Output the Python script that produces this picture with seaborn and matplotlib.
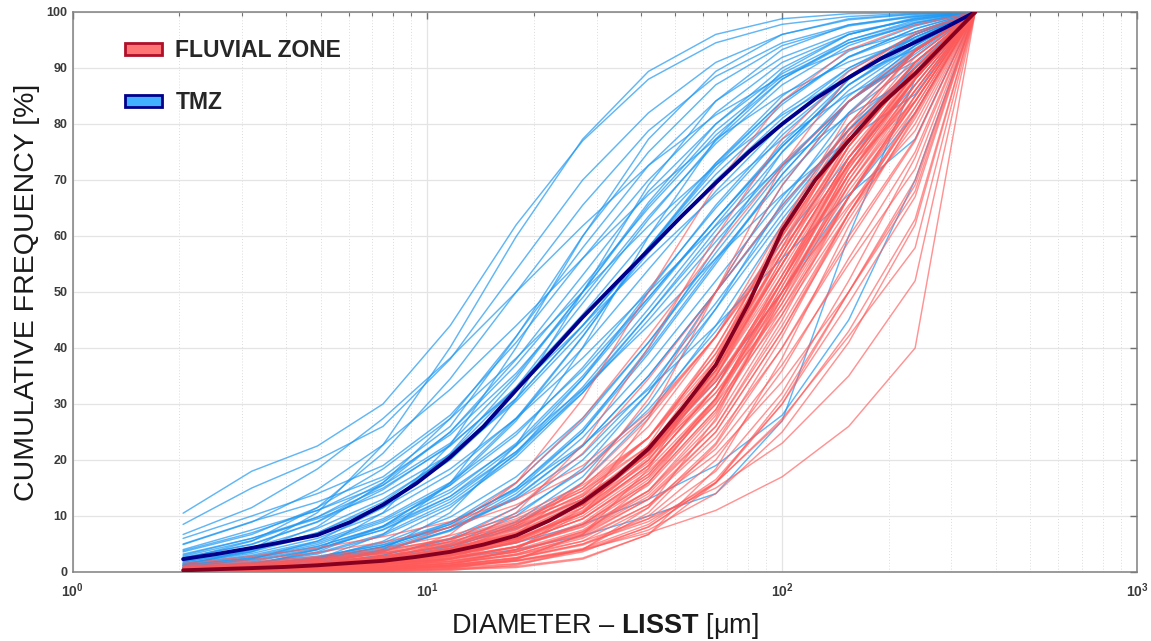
import numpy as np
import pandas as pd
import matplotlib
matplotlib.use("Agg")
import matplotlib.pyplot as plt
import seaborn as sns
from matplotlib.patches import Patch
from matplotlib.ticker import FixedLocator, NullLocator, LogLocator

# LISST size classes used for the individual curves (µm)
diameters = [2.05, 3.2, 4.9, 7.5, 11.6, 17.8, 27.4, 42, 65, 100, 154, 237, 350]
# finer classes used for the two mean curves (µm)
mean_diameters = [2.05, 2.54, 3.2, 3.95, 4.9, 6.06, 7.5, 9.3, 11.6, 14.4, 17.8, 22.1,
                  27.4, 33.9, 42, 52, 65, 80.5, 100, 124, 154, 190, 237, 288, 350]

# TMZ cumulative curves (%)
tmz_curves = {
    "B01": [10.5, 18, 22.5, 30, 44, 62, 77, 88, 94.5, 97.8, 99.2, 99.8, 100],
    "B02": [8.5, 15, 20, 26, 38, 54, 70, 82, 91, 96, 98.6, 99.6, 100],
    "B03": [5, 9, 12.5, 17, 26, 42, 60, 75, 87, 94, 97.5, 99.2, 100],
    "B04": [4, 7.5, 11, 15.5, 23, 35, 50, 66, 80, 90, 96, 99, 100],
    "B05": [1.4, 3.6, 8.1, 15.9, 27.4, 42.1, 57.9, 72.6, 84.1, 91.9, 96.4, 98.6, 100],
    "B06": [6.7, 11.5, 18.4, 27.4, 38.2, 50, 61.8, 72.6, 81.6, 88.5, 93.3, 96.4, 100],
    "B07": [0.8, 2.3, 5.5, 11.5, 21.2, 34.5, 50, 65.5, 78.8, 88.5, 94.5, 97.7, 100],
    "B08": [3.6, 6.7, 11.5, 18.4, 27.4, 38.2, 50, 61.8, 72.6, 81.6, 88.5, 93.3, 100],
    "B09": [0.5, 1.4, 3.6, 8.1, 15.9, 27.4, 42.1, 57.9, 72.6, 84.1, 91.9, 96.4, 100],
    "B10": [0.1, 0.3, 1.2, 4.0, 10.6, 22.7, 40.1, 59.9, 77.3, 89.4, 96.0, 98.8, 100],
    "B11": [0.3, 0.8, 2.3, 5.5, 11.5, 21.2, 34.5, 50, 65.5, 78.8, 88.5, 94.5, 100],
    "B12": [1.8, 3.6, 6.7, 11.5, 18.4, 27.4, 38.2, 50, 61.8, 72.6, 81.6, 88.5, 100],
    "B13": [4.9, 8.9, 14.7, 22.7, 32.6, 44.0, 56.0, 67.4, 77.3, 85.3, 91.1, 95.1, 100],
    "B14": [1.2, 4.0, 10.6, 22.7, 40.1, 59.9, 77.3, 89.4, 96.0, 98.8, 99.7, 99.9, 100],
    "B15": [0.6, 1.3, 2.5, 4.5, 8.5, 15, 25, 39, 55, 71, 84, 93, 100],
    "B16": [1.2, 2.6, 4.9, 8.9, 14.7, 22.7, 32.6, 44.0, 56.0, 67.4, 77.3, 85.3, 100],
    "B17": [0.3, 0.6, 1.1, 2.2, 4.5, 9, 17, 30, 47, 66, 82, 93, 100],
    "B18": [0.8, 1.6, 2.8, 4.8, 8, 13, 21, 33, 48, 64, 79, 90, 100],
    "B19": [0.4, 0.8, 1.5, 2.7, 4.6, 7.8, 13, 21.5, 34, 50, 67, 82, 100],
    "B20": [0.3, 0.6, 1.1, 1.9, 3.2, 5.2, 8.5, 13, 19, 28, 45, 70, 100],
    "B21": [0.2, 0.4, 0.8, 1.4, 2.4, 4, 6.5, 10, 14, 27, 60, 88, 100],
    "B22": [0.5, 1.2, 2.6, 4.9, 8.9, 14.7, 22.7, 32.6, 44.0, 56.0, 67.4, 77.3, 100],
    "B23": [0.1, 0.6, 2.3, 6.7, 15.9, 30.9, 50, 69.1, 84.1, 93.3, 97.7, 99.4, 100],
    "B24": [2.3, 5.5, 11.5, 21.2, 34.5, 50, 65.5, 78.8, 88.5, 94.5, 97.7, 99.2, 100],
    "B25": [0.5, 1.1, 2.2, 4.2, 8, 14.5, 25, 40, 58, 75, 88, 96, 100],
    "B26": [2.6, 4.9, 8.9, 14.7, 22.7, 32.6, 44.0, 56.0, 67.4, 77.3, 85.3, 91.1, 100],
    "B27": [0.3, 1.2, 4.0, 10.6, 22.7, 40.1, 59.9, 77.3, 89.4, 96.0, 98.8, 99.7, 100],
    "B28": [0.2, 0.5, 1.1, 2.4, 5, 10, 18.5, 32, 50, 69, 84, 94, 100],
    "B29": [6, 10, 14, 19, 28, 41, 56, 70, 82, 91, 96, 98.8, 100],
    "B30": [3, 6, 9.5, 14, 21, 31, 44, 58, 72, 83.5, 92, 97, 100],
    "B31": [1.5, 3, 5.5, 9.5, 16, 25, 36, 49, 63, 76, 87, 95, 100],
    "B32": [2, 4, 7, 12, 20, 31, 44, 58, 71, 82, 90, 95.5, 100],
    "B33": [0.6, 1.5, 3.2, 6.5, 12, 20.5, 32, 46, 61, 75, 86, 94, 100],
    "B34": [0.2, 0.6, 1.6, 3.6, 7.5, 14, 24, 37, 52, 67, 80, 90, 100],
    "B35": [1, 2.2, 4.2, 7.5, 13, 21.5, 33, 47, 62, 76, 87, 94.5, 100],
    "B36": [3.2, 6, 9.8, 15, 22.5, 33, 46, 60, 73, 84, 92, 97, 100],
    "B37": [0.4, 1, 2.2, 4.5, 8.8, 16, 27, 41, 57, 72, 85, 93.5, 100],
    "B38": [1.8, 3.8, 7, 12.5, 21, 33, 48, 63, 77, 88, 95, 98.5, 100],
    "B39": [0.7, 1.6, 3.4, 6.8, 12.5, 21, 32.5, 46, 60, 73, 84, 92, 100],
    "B40": [2.5, 5, 9, 15.5, 25, 38, 53, 68, 80, 89, 95, 98.2, 100],
    "B41": [0.3, 0.8, 1.8, 3.8, 7.3, 13.3, 22.5, 35, 50, 65.5, 79, 90, 100],
    "B42": [1.3, 2.8, 5.2, 9.2, 15.5, 24.5, 36.5, 50.5, 65, 78, 88.5, 95.5, 100],
    "B43": [1.1, 2.4, 4.5, 8.2, 14.2, 23, 35, 49, 63, 76, 87, 94, 100],
    "B44": [0.5, 1.2, 2.6, 5.2, 9.8, 17, 27.5, 41, 56, 70, 82, 91, 100],
    "B45": [2.2, 4.4, 7.8, 13, 20.5, 30.5, 43, 57, 70, 81, 90, 96, 100],
    "B46": [0.9, 2, 4, 7.6, 13.5, 22.5, 34.5, 48.5, 63, 76.5, 88, 95.5, 100],
    "B47": [0.2, 0.6, 1.4, 3, 6, 11.5, 20, 32, 47, 63, 78, 90, 100],
    "B48": [3.8, 7, 11, 16.5, 24.5, 35.5, 49, 63.5, 76.5, 87, 94, 98, 100],
    "B49": [1.6, 3.3, 6, 10.5, 17.5, 27.5, 40, 54, 68, 80, 89.5, 96, 100],
    "B50": [0.4, 1, 2, 4, 7.5, 13.5, 22.5, 35, 50, 65, 79, 90.5, 100],
    "B51": [0.7, 1.8, 4, 8.2, 15.5, 27, 42, 58, 73, 85, 93, 97.5, 100],
    "B52": [1.2, 2.5, 4.6, 8, 13.5, 21.5, 32, 45, 59, 72.5, 84, 92.5, 100],
    "B53": [0.3, 0.7, 1.5, 3, 5.8, 10.5, 18, 29, 43, 59, 74, 87, 100],
    "B54": [2.8, 5.6, 9.8, 16, 25, 37, 51, 65, 78, 88, 94.5, 98, 100],
    "B55": [0.5, 1.1, 2.3, 4.5, 8.5, 15, 25.5, 39.5, 55.5, 71, 84, 93, 100],
    "B56": [0.1, 0.3, 0.8, 1.9, 4.2, 8.5, 16, 28, 44, 62, 78, 90, 100],
}

# Fluvial zone cumulative curves (%)
fluvial_curves = {
    "R01": [0, 0.1, 0.3, 1.2, 4.0, 10.6, 22.7, 40.1, 59.9, 77.3, 89.4, 96.0, 100],
    "R02": [0.1, 0.5, 1.4, 3.6, 8.1, 15.9, 27.4, 42.1, 57.9, 72.6, 84.1, 91.9, 100],
    "R03": [0, 0, 0.1, 0.6, 2.3, 6.7, 15.9, 30.9, 50, 69.1, 84.1, 93.3, 100],
    "R04": [0.1, 0.3, 0.8, 2.3, 5.5, 11.5, 21.2, 34.5, 50, 65.5, 78.8, 88.5, 100],
    "R05": [0.2, 0.3, 0.5, 0.8, 1.5, 4, 11.5, 27.4, 50, 72.6, 88.5, 96.4, 100],
    "R06": [0, 0.1, 0.2, 0.3, 1.2, 4.0, 10.6, 22.7, 40.1, 59.9, 77.3, 89.4, 100],
    "R07": [0, 0.1, 0.5, 1.4, 3.6, 8.1, 15.9, 27.4, 42.1, 57.9, 72.6, 84.1, 100],
    "R08": [0.2, 0.3, 0.5, 0.7, 1, 2.2, 6.7, 18.4, 38.2, 61.8, 81.6, 93.3, 100],
    "R09": [0, 0, 0.1, 0.1, 0.6, 2.3, 6.7, 15.9, 30.9, 50, 69.1, 84.1, 100],
    "R10": [0.1, 0.2, 0.3, 0.5, 0.8, 1.5, 4, 11.5, 27.4, 50, 72.6, 88.5, 100],
    "R11": [0, 0.1, 0.3, 0.8, 2.3, 5.5, 11.5, 21.2, 34.5, 50, 65.5, 78.8, 100],
    "R12": [0, 0, 0.1, 0.1, 0.3, 1.2, 4.0, 10.6, 22.7, 40.1, 59.9, 77.3, 100],
    "R13": [0.1, 0.2, 0.3, 0.4, 0.6, 1, 2.5, 6.7, 18.4, 38.2, 61.8, 81.6, 100],
    "R14": [0, 0, 0.1, 0.2, 0.4, 0.8, 2.3, 6.7, 15.9, 30.9, 50, 69.1, 100],
    "R15": [0, 0.1, 0.2, 0.3, 0.5, 1.4, 3.6, 8.1, 15.9, 27.4, 42.1, 57.9, 100],
    "R16": [0, 0, 0.1, 0.3, 0.8, 2, 4, 7, 11, 17, 26, 40, 100],
    "R17": [0, 0.1, 0.3, 0.7, 1.5, 3, 5.5, 9.5, 15, 23, 35, 52, 100],
    "R18": [0, 0.1, 0.2, 0.5, 1.2, 2.5, 5, 9, 16, 27, 43, 63, 100],
    "R19": [0, 0.1, 0.6, 2.3, 6.7, 15.9, 30.9, 50, 69.1, 84.1, 93.3, 97.7, 100],
    "R20": [0.5, 1.0, 1.6, 2.6, 4.3, 7, 12, 20, 33, 52, 72, 88, 100],
    "R21": [0.3, 0.7, 1.2, 2.0, 3.4, 6, 10.5, 18.5, 31, 48, 67, 84, 100],
    "R22": [0.8, 1.5, 2.4, 3.8, 6, 9.5, 15, 24, 38, 57, 76, 90, 100],
    "R23": [0.2, 0.5, 1, 1.8, 3.2, 5.8, 10.5, 19, 33, 53, 73, 88, 100],
    "R24": [1.2, 2.2, 3.5, 5.3, 8, 12, 18, 28, 42, 60, 78, 91, 100],
    "R25": [0.4, 0.9, 1.6, 2.8, 4.8, 8.5, 15, 26, 42, 62, 80, 93, 100],
    "R26": [0.1, 0.3, 0.6, 1.2, 2.3, 4.5, 8.5, 16, 29, 48, 69, 86, 100],
    "R27": [0.6, 1.3, 2.2, 3.6, 5.8, 9.2, 14.5, 22.5, 34, 50, 68, 84, 100],
    "R28": [1.5, 2.8, 4.3, 6.3, 9, 13, 19, 28.5, 42, 59, 76, 90, 100],
    "R29": [0.2, 0.4, 0.8, 1.5, 2.8, 5.2, 9.5, 17.5, 31, 51, 71, 87, 100],
    "R30": [0.3, 0.6, 1.1, 2, 3.6, 6.5, 12, 21.5, 36, 56, 75, 89, 100],
    "R31": [0.1, 0.3, 0.7, 1.4, 2.8, 5.5, 10.5, 20, 35, 55, 74, 88, 100],
    "R32": [0.4, 0.8, 1.4, 2.4, 4.2, 7.5, 13.5, 24, 40, 60, 78, 91, 100],
    "R33": [0.2, 0.5, 0.9, 1.7, 3, 5.5, 10, 18, 30, 46, 64, 80, 100],
    "R34": [0.1, 0.2, 0.4, 0.8, 1.6, 3.2, 6.5, 13, 25, 43, 64, 82, 100],
    "R35": [0, 0.1, 0.2, 0.5, 1, 2, 4, 8, 16, 30, 50, 70, 100],
    "R36": [0.3, 0.6, 1, 1.7, 3, 5.3, 9.5, 17, 30, 50, 70, 86, 100],
    "R37": [0.2, 0.4, 0.8, 1.4, 2.5, 4.5, 8.5, 16, 29, 49, 70, 87, 100],
    "R38": [0.5, 0.9, 1.5, 2.5, 4.2, 7.2, 12.5, 21.5, 35, 54, 73, 88, 100],
    "R39": [0.1, 0.3, 0.6, 1.1, 2, 3.8, 7.2, 14, 26, 45, 67, 85, 100],
    "R40": [0.4, 0.8, 1.3, 2.2, 3.8, 6.7, 12, 21, 36, 57, 77, 91, 100],
    "R41": [0.7, 1.3, 2, 3.2, 5, 8, 13, 21, 33, 50, 69, 85, 100],
    "R42": [0.2, 0.5, 0.9, 1.6, 2.9, 5.2, 9.5, 17.5, 31, 52, 73, 89, 100],
    "R43": [0.3, 0.7, 1.2, 2.1, 3.7, 6.6, 12, 22, 38, 60, 80, 93, 100],
    "R44": [0.9, 1.6, 2.5, 3.9, 5.9, 8.9, 13.5, 21, 32, 47, 65, 82, 100],
    "R45": [0.1, 0.2, 0.5, 1, 1.9, 3.6, 7, 13.5, 25, 43, 63, 81, 100],
    "R46": [0.6, 1.1, 1.8, 2.9, 4.7, 7.8, 13, 22, 36, 55, 74, 89, 100],
    "R47": [0.2, 0.5, 1, 1.9, 3.5, 6.5, 12, 22, 37, 57, 76, 90, 100],
    "R48": [1, 1.8, 2.8, 4.3, 6.5, 10, 15.5, 24, 37, 55, 73, 88, 100],
    "R49": [0.1, 0.2, 0.4, 0.9, 1.8, 3.6, 7.2, 14.5, 28, 49, 71, 88, 100],
    "R50": [0.3, 0.6, 1.1, 1.9, 3.3, 5.9, 10.8, 20, 35, 56, 76, 91, 100],
    "R51": [0.2, 0.4, 0.7, 1.3, 2.4, 4.4, 8.2, 15.5, 28.5, 47, 67, 84, 100],
    "R52": [0.5, 1, 1.7, 2.8, 4.6, 7.6, 12.8, 21.5, 35, 53, 71, 86, 100],
    "R53": [0.1, 0.3, 0.6, 1.2, 2.3, 4.4, 8.5, 16.5, 30.5, 51, 72, 88, 100],
    "R54": [0.4, 0.8, 1.4, 2.3, 3.9, 6.8, 12, 21, 35.5, 55, 74, 89, 100],
    "R55": [0.3, 0.5, 0.9, 1.5, 2.6, 4.5, 8, 14.5, 26, 44, 64, 82, 100],
    "R56": [0.6, 1.2, 2, 3.3, 5.4, 8.8, 14.5, 24, 39, 58, 77, 91, 100],
    "R57": [0.1, 0.2, 0.4, 0.7, 1.3, 2.6, 5.5, 11.5, 23, 42, 64, 83, 100],
    "R58": [0.2, 0.5, 0.9, 1.7, 3.1, 5.7, 10.5, 19, 33, 52, 71, 86, 100],
    "R59": [0.8, 1.4, 2.2, 3.4, 5.2, 8.2, 13, 21, 34, 52, 71, 87, 100],
    "R60": [0.3, 0.6, 1.1, 1.9, 3.4, 6, 11, 20.5, 36, 58, 79, 93, 100],
    "R61": [0.2, 0.4, 0.8, 1.4, 2.5, 4.6, 8.8, 17, 31, 52, 74, 90, 100],
    "R62": [0.4, 0.9, 1.6, 2.8, 4.8, 8.2, 14, 24, 39, 59, 78, 92, 100],
    "R63": [0.1, 0.3, 0.5, 1, 1.9, 3.6, 6.8, 13, 24, 40, 59, 77, 100],
    "R64": [0.5, 0.9, 1.5, 2.5, 4.1, 6.8, 11.5, 19.5, 32, 49, 67, 83, 100],
    "R65": [0.2, 0.4, 0.7, 1.2, 2.2, 4, 7.5, 14.5, 27, 46, 67, 85, 100],
    "R66": [0.7, 1.3, 2.1, 3.4, 5.4, 8.6, 13.8, 22.5, 36, 55, 74, 89, 100],
    "R67": [0, 0.1, 0.3, 0.6, 1.2, 2.5, 5, 10, 20, 36, 56, 75, 100],
    "R68": [0.3, 0.7, 1.3, 2.3, 4, 7, 12.5, 22, 37, 57, 76, 90, 100],
    "R69": [0.1, 0.2, 0.4, 0.8, 1.5, 3, 6, 12, 22, 37, 55, 72, 100],
    "R70": [0.4, 0.7, 1.2, 2, 3.4, 5.9, 10.5, 19, 33, 53, 73, 88, 100],
    "R71": [0, 0.1, 0.2, 0.4, 0.9, 1.9, 3.8, 7.5, 14, 25, 41, 62, 100],
    "R72": [0.1, 0.2, 0.4, 0.8, 1.6, 3.2, 6.3, 12, 21, 34, 50, 68, 100],
    "R73": [0, 0.1, 0.3, 0.6, 1.2, 2.4, 4.8, 9.5, 18, 32, 52, 74, 100],
    "R74": [0.1, 0.2, 0.3, 0.6, 1.1, 2.1, 4.2, 8.5, 16.5, 30, 48, 67, 100],
}

# Mean curves (%)
tmz_mean = [2.3, 3.2, 4.3, 5.4, 6.6, 8.9, 12, 15.8, 20.5, 26, 32.5, 39, 45.5,
            51.5, 57.5, 63.5, 69.5, 75, 80, 84.5, 88.3, 91.7, 94.6, 97.2, 100]
fluvial_mean = [0.3, 0.5, 0.7, 0.9, 1.2, 1.6, 2.0, 2.7, 3.6, 4.9, 6.5, 9.2, 12.5,
                16.8, 22, 29, 37, 48, 61, 70, 77, 83.5, 89, 94.5, 100]

legend_labels = ["FLUVIAL ZONE", "TMZ"]
x_ticks = [1, 10, 100, 1000]
x_ticklabels = [r"$\mathbf{10^{0}}$", r"$\mathbf{10^{1}}$", r"$\mathbf{10^{2}}$", r"$\mathbf{10^{3}}$"]
y_ticks = [0, 10, 20, 30, 40, 50, 60, 70, 80, 90, 100]

# ---------------------------------------------------------------------------
sns.set_style("white")
plt.rcParams["font.family"] = ["Liberation Sans", "DejaVu Sans"]
plt.rcParams["mathtext.fontset"] = "custom"
plt.rcParams["mathtext.rm"] = "Liberation Sans"
plt.rcParams["mathtext.bf"] = "Liberation Sans:bold"
plt.rcParams["mathtext.it"] = "Liberation Sans:italic"


def to_long(curves, zone):
    rows = []
    for name, vals in curves.items():
        for d, v in zip(diameters, vals):
            rows.append({"d": d, "v": v, "curve": name, "zone": zone})
    return pd.DataFrame(rows)


df_tmz = to_long(tmz_curves, "TMZ")
df_fl = to_long(fluvial_curves, "FLUVIAL ZONE")
df_mean = pd.DataFrame({"d": mean_diameters * 2,
                        "v": tmz_mean + fluvial_mean,
                        "zone": ["TMZ"] * len(mean_diameters) + ["FLUVIAL ZONE"] * len(mean_diameters)})

fig = plt.figure(figsize=(11.51, 6.41), dpi=100)
ax = fig.add_axes([72.5 / 1151, 1 - 572 / 641, (1137 - 72.5) / 1151, (572 - 12) / 641])

sns.lineplot(data=df_tmz, x="d", y="v", units="curve", estimator=None,
             color="#1e98f2", alpha=0.7, lw=1.05, ax=ax, legend=False, zorder=2)
sns.lineplot(data=df_fl, x="d", y="v", units="curve", estimator=None,
             color="#ff5a5a", alpha=0.65, lw=1.05, ax=ax, legend=False, zorder=3)
sns.lineplot(data=df_mean, x="d", y="v", hue="zone", estimator=None,
             palette={"TMZ": "#00008b", "FLUVIAL ZONE": "#880020"},
             lw=2.8, ax=ax, legend=False, zorder=4)

ax.set_xscale("log")
ax.set_xlim(1, 1000)
ax.set_ylim(0, 100)

ax.xaxis.set_major_locator(FixedLocator(x_ticks))
ax.set_xticklabels(x_ticklabels)
ax.xaxis.set_minor_locator(LogLocator(base=10, subs=np.arange(2, 10)))
ax.set_yticks(y_ticks)
ax.set_yticklabels([str(t) for t in y_ticks], fontweight="bold")
ax.yaxis.set_minor_locator(NullLocator())

ax.tick_params(axis="both", which="major", direction="in", length=5, width=1,
               color="#707070", labelcolor="#3a3a3a", labelsize=9, top=True, right=True)
ax.tick_params(axis="x", which="minor", direction="in", length=3, width=0.8,
               color="#707070", top=True)
ax.tick_params(axis="x", which="major", pad=7, labelsize=10)

ax.set_axisbelow(True)
ax.grid(which="major", axis="y", color="#e4e4e4", lw=0.9, ls="-")
ax.grid(which="major", axis="x", color="#e4e4e4", lw=0.9, ls="-")
ax.grid(which="minor", axis="x", color="#dcdcdc", lw=0.7, ls=(0, (1, 2)))

for s in ax.spines.values():
    s.set_visible(True)
    s.set_color("#808080")
    s.set_linewidth(1.1)

ax.set_ylabel("CUMULATIVE FREQUENCY [%]", fontsize=20.5, color="#1a1a1a", labelpad=5)
ax.set_xlabel(r"DIAMETER – $\mathbf{LISST}$ [μm]", fontsize=19.5, color="#1a1a1a")
ax.xaxis.set_label_coords(0.5, -0.07)

handles = [Patch(facecolor="#ff7474", edgecolor="#b0102a", lw=2.0),
           Patch(facecolor="#42b0ff", edgecolor="#00008b", lw=2.0)]
leg = ax.legend(handles, legend_labels, loc="upper left", frameon=False,
                bbox_to_anchor=(0.030, 0.988), handlelength=1.6, handleheight=0.45,
                handletextpad=0.6, labelspacing=1.25, borderpad=0.4,
                prop={"weight": "bold", "size": 16.5})

fig.savefig("out.png", dpi=100)
